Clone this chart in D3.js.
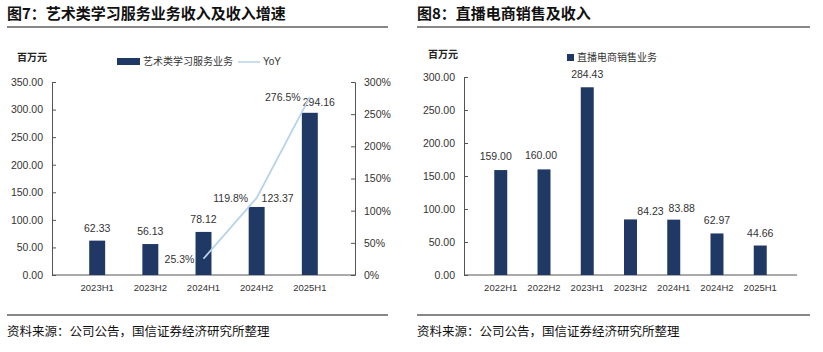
<!DOCTYPE html>
<html>
<head>
<meta charset="utf-8">
<script src="https://d3js.org/d3.v7.min.js"></script>
<style>
  body { margin:0; background:#fff; }
  svg { font-family: "Liberation Sans", "Noto Sans CJK SC", sans-serif; }
  .title { font-family: "Noto Sans CJK SC"; font-weight:bold; font-size:15px; fill:#111; }
  .src { font-family: "Noto Sans CJK SC"; font-size:12.5px; fill:#111; }
  .unit { font-family: "Noto Sans CJK SC"; font-weight:bold; font-size:10px; fill:#222; }
  .leg { font-family: "Noto Sans CJK SC"; font-size:10px; fill:#333; }
  .tick text { font-size:10.5px; fill:#333; }
  .xl { font-size:9.5px; fill:#333; }
  .val { font-size:10.5px; fill:#333; }
</style>
</head>
<body>
<svg width="823" height="352"></svg>
<script>
// figure 7 data
var art_cats = ["2023H1","2023H2","2024H1","2024H2","2025H1"];
var art_rev = [62.33, 56.13, 78.12, 123.37, 294.16];
var art_yoy = [null, null, 25.3, 119.8, 276.5];
var art_ticks = [0,50,100,150,200,250,300,350];
var art_pct_ticks = [0,50,100,150,200,250,300];

// figure 8 data
var live_cats = ["2022H1","2022H2","2023H1","2023H2","2024H1","2024H2","2025H1"];
var live_rev = [159.00, 160.00, 284.43, 84.23, 83.88, 62.97, 44.66];
var live_ticks = [0,50,100,150,200,250,300];

var navy = "#1f3864";
var svg = d3.select("svg");

function header(x0, x1, title){
  svg.append("text").attr("class","title").attr("x",x0).attr("y",19).text(title);
  svg.append("line").attr("x1",x0).attr("x2",x1).attr("y1",27).attr("y2",27)
    .style("stroke","#111").style("stroke-width",1.2);
  svg.append("line").attr("x1",x0).attr("x2",x1).attr("y1",315).attr("y2",315)
    .style("stroke","#111").style("stroke-width",1.2);
  svg.append("text").attr("class","src").attr("x",x0).attr("y",336).text("资料来源：公司公告，国信证券经济研究所整理");
}

function leftAxis(g, y, ticks, xpos){
  var ax = g.append("g").attr("transform","translate("+xpos+",0)")
    .call(d3.axisLeft(y).tickValues(ticks).tickSize(-4).tickPadding(9).tickFormat(d3.format(".2f")));
  ax.select(".domain").style("stroke","#555");
  ax.selectAll(".tick line").style("stroke","#555");
  return ax;
}

// ---------- chart 1 ----------
header(7, 388, "图7：艺术类学习服务业务收入及收入增速");
var g1 = svg.append("g");
var x1 = d3.scaleBand().domain(art_cats).range([52,355]).padding(0.7);
var y1 = d3.scaleLinear().domain([0,350]).range([275,82]);
var y1r = d3.scaleLinear().domain([0,300]).range([275,82]);

leftAxis(g1, y1, art_ticks, 52);
var rax = g1.append("g").attr("transform","translate(355,0)")
  .call(d3.axisRight(y1r).tickValues(art_pct_ticks).tickSize(-4).tickPadding(9).tickFormat(function(d){return d+"%";}));
rax.select(".domain").style("stroke","#555");
rax.selectAll(".tick line").style("stroke","#555");

g1.append("line").attr("x1",52).attr("x2",355).attr("y1",y1(0)).attr("y2",y1(0)).style("stroke","#555");

g1.selectAll("rect.bar").data(art_rev).enter().append("rect").attr("class","bar")
  .attr("x",function(d,i){return x1(art_cats[i]);})
  .attr("width",x1.bandwidth())
  .attr("y",function(d){return y1(d);})
  .attr("height",function(d){return y1(0)-y1(d);})
  .style("fill",navy);

var artDx = [0,0,0,21,9], artDy = [-9,-9,-9,-5,-7];
g1.selectAll("text.val").data(art_rev).enter().append("text").attr("class","val")
  .attr("text-anchor","middle")
  .attr("x",function(d,i){return x1(art_cats[i])+x1.bandwidth()/2+artDx[i];})
  .attr("y",function(d,i){return y1(d)+artDy[i];})
  .text(function(d){return d.toFixed(2);});

g1.selectAll("text.xl").data(art_cats).enter().append("text").attr("class","xl")
  .attr("text-anchor","middle")
  .attr("x",function(d){return x1(d)+x1.bandwidth()/2;})
  .attr("y",291).text(function(d){return d;});

var yoyPts = art_cats.map(function(c,i){return {c:c, v:art_yoy[i]};}).filter(function(p){return p.v!==null;});
var line = d3.line().x(function(p){return x1(p.c)+x1.bandwidth()/2;}).y(function(p){return y1r(p.v);});
g1.append("path").attr("d",line(yoyPts)).style("fill","none").style("stroke","#b7d3ea").style("stroke-width",1.8);

var yoyDx = [-24,-26,-27], yoyDy = [4,4,4];
g1.selectAll("text.yoy").data(yoyPts).enter().append("text").attr("class","val")
  .attr("text-anchor","middle")
  .attr("x",function(p,i){return x1(p.c)+x1.bandwidth()/2+yoyDx[i];})
  .attr("y",function(p,i){return y1r(p.v)+yoyDy[i];})
  .text(function(p){return p.v.toFixed(1)+"%";});

svg.append("text").attr("class","unit").attr("x",17).attr("y",61).text("百万元");
svg.append("rect").attr("x",117).attr("y",58).attr("width",23).attr("height",7).style("fill",navy);
svg.append("text").attr("class","leg").attr("x",143).attr("y",65).text("艺术类学习服务业务");
svg.append("line").attr("x1",238).attr("x2",260).attr("y1",62).attr("y2",62).style("stroke","#b7d3ea").style("stroke-width",1.5);
svg.append("text").attr("class","leg").attr("x",263).attr("y",65).style("font-family","Liberation Sans").text("YoY");

// ---------- chart 2 ----------
header(417, 810, "图8：直播电商销售及收入");
var g2 = svg.append("g");
var x2 = d3.scaleBand().domain(live_cats).range([464,797]).padding(0.7);
var y2 = d3.scaleLinear().domain([0,300]).range([275,77]);

leftAxis(g2, y2, live_ticks, 464);
g2.append("line").attr("x1",464).attr("x2",797).attr("y1",y2(0)).attr("y2",y2(0)).style("stroke","#555");

g2.selectAll("rect.bar").data(live_rev).enter().append("rect").attr("class","bar")
  .attr("x",function(d,i){return x2(live_cats[i]);})
  .attr("width",x2.bandwidth())
  .attr("y",function(d){return y2(d);})
  .attr("height",function(d){return y2(0)-y2(d);})
  .style("fill",navy);

var liveDx = [-5,-3,0,20,8,0,0];
var liveDy = [-10,-10,-9,-4,-8,-9,-9];
g2.selectAll("text.val").data(live_rev).enter().append("text").attr("class","val")
  .attr("text-anchor","middle")
  .attr("x",function(d,i){return x2(live_cats[i])+x2.bandwidth()/2+liveDx[i];})
  .attr("y",function(d,i){return y2(d)+liveDy[i];})
  .text(function(d){return d.toFixed(2);});

g2.selectAll("text.xl").data(live_cats).enter().append("text").attr("class","xl")
  .attr("text-anchor","middle")
  .attr("x",function(d){return x2(d)+x2.bandwidth()/2;})
  .attr("y",291).text(function(d){return d;});

svg.append("text").attr("class","unit").attr("x",428).attr("y",58).text("百万元");
svg.append("rect").attr("x",567).attr("y",54).attr("width",7).attr("height",7).style("fill",navy);
svg.append("text").attr("class","leg").attr("x",577).attr("y",61).text("直播电商销售业务");
</script>
</body>
</html>
